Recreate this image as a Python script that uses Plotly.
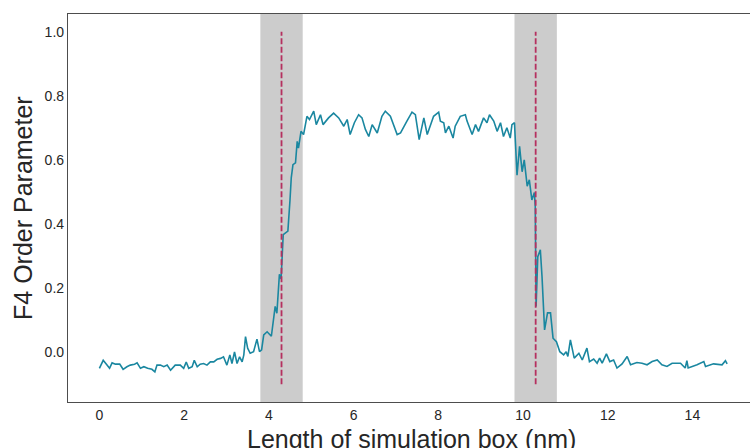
import plotly.graph_objects as go

# ---- data ----
x_vals = [0.00, 0.09, 0.18, 0.24, 0.30, 0.38, 0.48, 0.56, 0.65, 0.73, 0.83, 0.89, 0.97,
          1.05, 1.14, 1.24, 1.31, 1.36, 1.44, 1.52, 1.60, 1.68, 1.79, 1.91, 1.99,
          2.05, 2.11, 2.19, 2.24, 2.31, 2.38, 2.46, 2.54, 2.62, 2.70, 2.78, 2.86, 2.93,
          3.01, 3.08, 3.13, 3.19, 3.25, 3.31, 3.37, 3.41, 3.45, 3.50, 3.56, 3.64, 3.72,
          3.78, 3.83, 3.88, 3.96, 4.06, 4.15, 4.19, 4.25, 4.29, 4.34, 4.45, 4.50, 4.53,
          4.57, 4.63, 4.67, 4.70, 4.76, 4.82, 4.90, 4.96, 5.06, 5.12, 5.22, 5.28, 5.41,
          5.53, 5.65, 5.77, 5.85, 5.92, 6.02, 6.12, 6.20, 6.28, 6.36, 6.44, 6.56, 6.67,
          6.75, 6.87, 7.03, 7.11, 7.26, 7.38, 7.46, 7.55, 7.66, 7.74, 7.89, 8.01, 8.05,
          8.13, 8.17, 8.25, 8.35, 8.40, 8.52, 8.59, 8.64, 8.68, 8.80, 8.88, 8.95, 9.07,
          9.15, 9.21, 9.31, 9.39, 9.47, 9.54, 9.62, 9.70, 9.74, 9.80, 9.86, 9.92, 9.98,
          10.03, 10.10, 10.15, 10.21, 10.27, 10.29, 10.31, 10.35, 10.41, 10.45, 10.51,
          10.58, 10.65, 10.71, 10.79, 10.87, 10.96, 11.02, 11.06, 11.12, 11.21, 11.32,
          11.40, 11.51, 11.57, 11.67, 11.75, 11.81, 11.87, 11.97, 12.05, 12.14, 12.22,
          12.34, 12.46, 12.54, 12.69, 12.81, 12.93, 13.05, 13.17, 13.28, 13.40, 13.52,
          13.72, 13.83, 13.87, 13.90, 14.11, 14.27, 14.31, 14.50, 14.70, 14.78, 14.82]

order_param = [-0.050, -0.025, -0.040, -0.050, -0.033, -0.037, -0.037, -0.053, -0.045, -0.040, -0.037, -0.033, -0.050,
               -0.045, -0.050, -0.053, -0.061, -0.040, -0.040, -0.045, -0.040, -0.056, -0.040, -0.040, -0.050,
               -0.030, -0.050, -0.045, -0.025, -0.045, -0.037, -0.035, -0.040, -0.030, -0.030, -0.022, -0.019, -0.014,
               -0.040, -0.008, -0.035, 0.001, -0.035, -0.014, -0.030, -0.008, 0.049, 0.013, -0.003, 0.002, 0.041,
               0.002, 0.008, 0.054, 0.064, 0.050, 0.143, 0.122, 0.243, 0.229, 0.367, 0.378, 0.475, 0.545,
               0.585, 0.591, 0.658, 0.637, 0.689, 0.679, 0.736, 0.726, 0.752, 0.710, 0.741, 0.710, 0.731,
               0.746, 0.731, 0.705, 0.726, 0.679, 0.716, 0.741, 0.731, 0.695, 0.673, 0.710, 0.684, 0.736,
               0.752, 0.736, 0.679, 0.684, 0.721, 0.749, 0.741, 0.663, 0.731, 0.679, 0.736, 0.749, 0.721,
               0.716, 0.684, 0.705, 0.668, 0.705, 0.736, 0.738, 0.741, 0.721, 0.679, 0.710, 0.689, 0.731,
               0.716, 0.741, 0.721, 0.689, 0.716, 0.673, 0.700, 0.668, 0.710, 0.716, 0.552, 0.642, 0.563,
               0.600, 0.518, 0.538, 0.475, 0.498, 0.455, 0.143, 0.298, 0.320, 0.236, 0.070,
               0.123, 0.123, 0.044, 0.033, 0.002, -0.008, 0.002, -0.013, 0.039, -0.018, -0.003,
               -0.024, 0.013, -0.029, -0.021, -0.034, -0.018, -0.034, -0.005, -0.029, -0.024, -0.049,
               -0.036, -0.013, -0.039, -0.032, -0.034, -0.039, -0.029, -0.024, -0.039, -0.044, -0.034,
               -0.034, -0.049, -0.026, -0.049, -0.039, -0.029, -0.044, -0.036, -0.039, -0.026, -0.036]

interface_pos = [4.3, 10.3]          # dashed interface markers
interface_halfwidth = 0.5            # shaded band half-width
marker_y = [-0.1, 1.0]

x_ticks = [0, 2, 4, 6, 8, 10, 12, 14]
y_ticks = [0.0, 0.2, 0.4, 0.6, 0.8, 1.0]
y_ticklabels = ["0.0", "0.2", "0.4", "0.6", "0.8", "1.0"]

x_title = "Length of simulation box (nm)"
y_title = "F4 Order Parameter"

LINE = "#1a87a0"
DASH = "#b5305f"
SHADE = "#cccccc"
TXT = "#262626"
FONT = "Liberation Sans, Arial, sans-serif"

fig = go.Figure()

for p in interface_pos:
    fig.add_vrect(x0=p - interface_halfwidth, x1=p + interface_halfwidth,
                  fillcolor=SHADE, opacity=1, line_width=0, layer="below")

fig.add_trace(go.Scatter(x=x_vals, y=order_param, mode="lines",
                         line=dict(color=LINE, width=1.6), showlegend=False,
                         hoverinfo="skip"))

for p in interface_pos:
    fig.add_trace(go.Scatter(x=[p, p], y=marker_y, mode="lines",
                             line=dict(color=DASH, width=1.8, dash="6px,2.5px"),
                             showlegend=False, hoverinfo="skip"))

fig.update_layout(
    width=750, height=448,
    margin=dict(l=68, r=0, t=14, b=46, autoexpand=False),
    paper_bgcolor="white", plot_bgcolor="white",
    font=dict(family=FONT, color=TXT, size=14),
    xaxis=dict(range=[-0.741, 15.36], tickvals=x_ticks, ticks="", automargin=False,
               showgrid=False, zeroline=False, showline=True, mirror=True,
               linecolor="#4d4d4d", linewidth=1.25,
               tickfont=dict(size=14, color=TXT, family=FONT)),
    yaxis=dict(range=[-0.155, 1.055], tickvals=y_ticks, ticktext=y_ticklabels,
               ticks="", automargin=False, showgrid=False, zeroline=False,
               showline=True, mirror=False,
               linecolor="#4d4d4d", linewidth=1.25,
               tickfont=dict(size=14, color=TXT, family=FONT)),
    annotations=[
        dict(text=y_title, xref="paper", yref="paper", x=-0.066, y=0.5,
             xanchor="center", yanchor="middle", textangle=-90, showarrow=False,
             font=dict(size=25, color=TXT, family=FONT)),
        dict(text=x_title, xref="paper", yref="paper", x=0.504, y=-0.054,
             xanchor="center", yanchor="top", showarrow=False,
             font=dict(size=25, color=TXT, family=FONT)),
    ],
)

fig.write_html("out.html", config={"displayModeBar": False},
               post_script="document.body.style.margin='0';document.body.style.overflow='hidden';")
